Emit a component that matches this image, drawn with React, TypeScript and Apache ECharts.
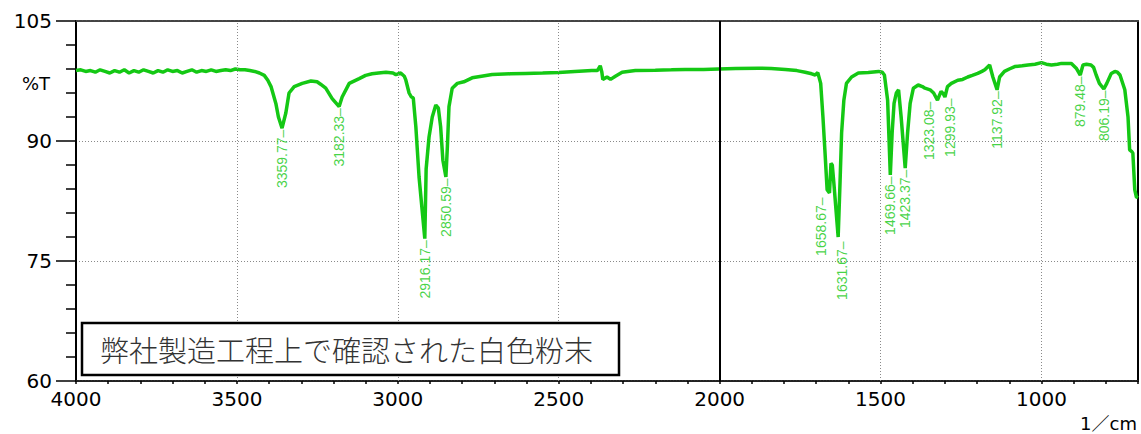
import React, { useEffect, useRef } from "react";
import * as echarts from "echarts";

// ---- data ----
const wavenumbers = [
  4000, 3985, 3970, 3955, 3940, 3925, 3910, 3895, 3880, 3865, 3850, 3835, 3820, 3805, 3790, 3775, 3760, 3745, 3730, 3715,
  3700, 3685, 3670, 3655, 3640, 3625, 3610, 3595, 3580, 3565, 3550, 3535, 3520, 3505, 3490, 3475, 3460, 3445, 3430, 3415,
  3404, 3394, 3379, 3371, 3359.77, 3348, 3338, 3322, 3297, 3270, 3251, 3240, 3224, 3204, 3182.33, 3173, 3151, 3120, 3100, 3080,
  3060, 3037, 3015, 3006, 2991, 2980, 2975, 2965, 2958, 2952, 2944, 2934, 2916.17, 2912, 2903, 2893, 2882, 2874, 2867, 2860,
  2850.59, 2846, 2841, 2831, 2815, 2795, 2769, 2740, 2707, 2650, 2603, 2550, 2500, 2450, 2397, 2380, 2371, 2366, 2363, 2350,
  2339, 2324, 2303, 2262, 2200, 2150, 2107, 2050, 2003, 1950, 1879, 1840, 1796, 1760, 1734, 1714, 1703, 1695, 1686, 1679,
  1673, 1666, 1658.67, 1654, 1650, 1645, 1631.67, 1626, 1621, 1614, 1606, 1590, 1569, 1538, 1506, 1495, 1488, 1478, 1469.66, 1464,
  1458, 1451, 1444, 1436, 1423.37, 1416, 1408, 1398, 1383, 1370, 1362, 1346, 1335, 1323.08, 1312, 1305, 1299.93, 1292, 1280, 1260,
  1245, 1229, 1215, 1198, 1185, 1176, 1161, 1151, 1137.92, 1130, 1115, 1100, 1083, 1060, 1042, 1020, 1000, 985, 969, 950,
  938, 920, 907, 892, 879.48, 871, 860, 846, 838, 830, 820, 806.19, 797, 783, 772, 764, 756, 741, 731, 726,
  720, 716, 710, 705, 700,
];
const transmittance = [
  98.8, 98.9, 98.7, 98.8, 98.6, 98.9, 98.7, 98.5, 98.8, 98.6, 98.9, 98.5, 98.8, 98.6, 98.9, 98.7, 98.5, 98.8, 98.6, 98.9,
  98.7, 98.8, 98.5, 98.7, 98.9, 98.6, 98.8, 98.7, 98.9, 98.7, 98.8, 98.9, 98.8, 99.0, 98.9, 98.9, 98.8, 98.7, 98.5, 98.2,
  97.6, 96.8, 94.7, 93.0, 91.6, 93.5, 96.0, 96.8, 97.2, 97.5, 97.4, 97.1, 96.6, 95.3, 94.3, 95.5, 97.2, 97.8, 98.2, 98.4,
  98.5, 98.6, 98.5, 98.3, 98.5, 98.1, 97.6, 96.0, 95.5, 95.4, 91.8, 85.5, 77.8, 86.5, 90.5, 93.0, 94.5, 94.1, 91.8, 87.6,
  85.5, 89.3, 94.3, 96.6, 97.2, 97.4, 97.9, 98.1, 98.3, 98.4, 98.45, 98.5, 98.55, 98.7, 98.8, 98.8, 99.4, 98.6, 97.7, 98.0,
  97.7, 98.1, 98.6, 98.8, 98.85, 98.9, 98.95, 98.95, 99.0, 99.05, 99.1, 99.05, 98.95, 98.8, 98.6, 98.4, 98.25, 98.55, 97.2, 93.0,
  88.9, 83.9, 83.5, 87.2, 87.0, 84.7, 78.0, 84.7, 91.0, 95.1, 97.2, 98.0, 98.5, 98.55, 98.7, 98.6, 98.25, 95.1, 85.75, 91.0,
  94.7, 96.0, 96.4, 93.0, 86.6, 91.0, 94.7, 96.6, 97.0, 96.8, 96.6, 96.4, 96.0, 95.1, 96.2, 95.9, 95.5, 96.8, 97.2, 97.6,
  97.7, 98.0, 98.2, 98.45, 98.7, 98.9, 99.5, 98.0, 96.4, 98.0, 98.7, 99.0, 99.3, 99.4, 99.5, 99.6, 99.8, 99.6, 99.5, 99.6,
  99.7, 99.7, 99.7, 99.1, 98.25, 99.5, 99.6, 99.5, 99.2, 98.25, 97.2, 96.5, 97.2, 98.45, 98.7, 98.6, 98.25, 96.4, 93.0, 88.9,
  88.7, 88.5, 83.9, 83.0, 82.9,
];
const peakLabels = [
  3359.77, 3182.33, 2916.17, 2850.59, 1658.67, 1631.67, 1469.66, 1423.37, 1323.08, 1299.93, 1137.92, 879.48, 806.19,
];
const xTickLabels = [4000, 3500, 3000, 2500, 2000, 1500, 1000];
const xGridLines = [3500, 3000, 2500, 1500, 1000];
const xBreakLine = [2000];
const xRange = [700, 4000];
const yRange = [60, 105];
const yStep = 15;
const xUnit = "1／cm";
const yUnit = "%T";
const caption = "弊社製造工程上で確認された白色粉末";

// screen nudges [dx, dy] so crowded peak labels do not collide (styling only)
const labelNudge: Record<string, number[]> = {
  "1658.67": [-8, 3],
  "1631.67": [4, 3],
  "1323.08": [-8, 0],
  "1299.93": [5, 0],
};

const GREEN = "#14c814";
const AXIS_FONT = "DejaVu Sans";

export default function App() {
  const ref = useRef<HTMLDivElement>(null);

  useEffect(() => {
    if (!ref.current) return;
    const chart = echarts.init(ref.current, undefined, { renderer: "svg" });

    const spectrum = wavenumbers.map((w, i) => [w, transmittance[i]]);
    const peaks = peakLabels.map((w) => {
      const idx = wavenumbers.indexOf(w);
      const item: any = { value: [w, transmittance[idx]] };
      const n = labelNudge[w.toFixed(2)];
      // label is rotated 90deg: local x maps to screen -y, local y maps to screen x
      if (n) item.label = { offset: [-n[1], n[0]] };
      return item;
    });

    chart.setOption({
      animation: false,
      backgroundColor: "#fff",
      grid: { left: 76, right: 1, top: 21, bottom: 53, containLabel: false },
      xAxis: [
        {
          type: "value",
          inverse: true,
          min: xRange[0],
          max: xRange[1],
          interval: 100,
          axisLine: { show: true, lineStyle: { color: "#222", width: 2, type: [2, 1] } },
          axisTick: { show: true, length: 3, lineStyle: { color: "#000", width: 1.5 } },
          axisLabel: {
            interval: 0,
            margin: 8,
            color: "#000",
            fontSize: 20,
            fontFamily: AXIS_FONT,
            formatter: (v: number) => (xTickLabels.includes(v) ? String(v) : ""),
          },
          splitLine: { show: false },
        },
        {
          type: "value",
          position: "top",
          inverse: true,
          min: xRange[0],
          max: xRange[1],
          interval: 100,
          axisLine: { show: true, lineStyle: { color: "#444", width: 2, type: [3, 1] } },
          axisTick: { show: false },
          axisLabel: { show: false },
          splitLine: { show: false },
        },
      ],
      yAxis: [
        {
          type: "value",
          min: yRange[0],
          max: yRange[1],
          interval: yStep,
          axisLine: { show: true, lineStyle: { color: "#000", width: 2 } },
          axisTick: { show: true, length: 20, lineStyle: { color: "#000", width: 1.5 } },
          minorTick: { show: true, splitNumber: 5, length: 10, lineStyle: { color: "#000", width: 1.5 } },
          axisLabel: { margin: 24, color: "#000", fontSize: 20, fontFamily: AXIS_FONT },
          splitLine: {
            show: true,
            showMinLine: false,
            showMaxLine: false,
            lineStyle: { color: "#8a8a8a", width: 1, type: [1, 2] },
          },
        },
        {
          type: "value",
          position: "right",
          min: yRange[0],
          max: yRange[1],
          interval: yStep,
          axisLine: { show: true, lineStyle: { color: "#000", width: 2 } },
          axisTick: { show: false },
          axisLabel: { show: false },
          splitLine: { show: false },
        },
      ],
      series: [
        {
          type: "line",
          data: [],
          z: 1,
          silent: true,
          markLine: {
            silent: true,
            symbol: "none",
            label: { show: false },
            data: [
              ...xGridLines.map((x) => ({
                xAxis: x,
                lineStyle: { color: "#8a8a8a", width: 1, type: [1, 2] },
              })),
              ...xBreakLine.map((x) => ({
                xAxis: x,
                lineStyle: { color: "#000", width: 2, type: "solid" },
              })),
            ],
          },
        },
        {
          type: "line",
          data: spectrum,
          z: 3,
          symbol: "none",
          showSymbol: false,
          lineStyle: { color: GREEN, width: 3.5 },
          silent: true,
        },
        {
          type: "scatter",
          data: peaks,
          z: 4,
          symbolSize: 1,
          itemStyle: { color: "rgba(0,0,0,0)" },
          silent: true,
          label: {
            show: true,
            position: "bottom",
            distance: 1,
            rotate: 90,
            align: "right",
            verticalAlign: "middle",
            color: GREEN,
            fontSize: 14,
            fontFamily: "Liberation Sans",
            formatter: (p: any) => p.value[0].toFixed(2) + "–",
          },
        },
      ],
      graphic: [
        {
          type: "text",
          x: 36,
          y: 83,
          z: 20,
          style: {
            text: yUnit,
            fontSize: 18,
            fontFamily: AXIS_FONT,
            fill: "#000",
            align: "center",
            verticalAlign: "middle",
          },
        },
        {
          type: "text",
          x: 1137,
          y: 423,
          z: 20,
          style: {
            text: xUnit,
            fontSize: 18,
            fontFamily: AXIS_FONT + ", Noto Sans CJK JP",
            fill: "#000",
            align: "right",
            verticalAlign: "middle",
          },
        },
        {
          type: "rect",
          z: 20,
          shape: { x: 82, y: 323, width: 537, height: 52 },
          style: { fill: "#fff", stroke: "#000", lineWidth: 2.5 },
        },
        {
          type: "text",
          z: 21,
          x: 100,
          y: 349,
          style: {
            text: caption,
            fontSize: 29,
            fontFamily: "Noto Sans CJK JP",
            fontWeight: 300,
            fill: "#333",
            align: "left",
            verticalAlign: "middle",
          },
        },
      ],
    });

    return () => chart.dispose();
  }, []);

  return (
    <div
      ref={ref}
      style={{ position: "absolute", left: 0, top: 0, width: 1141, height: 434, background: "#fff" }}
    />
  );
}
